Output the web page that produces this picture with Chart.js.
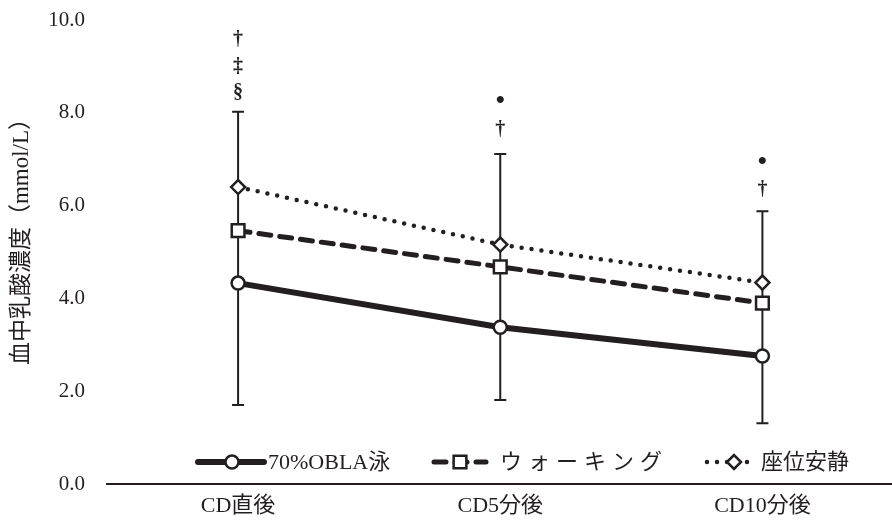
<!DOCTYPE html>
<html>
<head>
<meta charset="utf-8">
<script src="https://cdn.jsdelivr.net/npm/chart.js@4/dist/chart.umd.min.js"></script>
<style>
  html, body { margin: 0; padding: 0; background: #fff; overflow: hidden; }
  #wrap { width: 905px; height: 524px; }
</style>
</head>
<body>
<div id="wrap"><canvas id="lactateChart"></canvas></div>
<script>
const categories = ['CD直後', 'CD5分後', 'CD10分後'];
const seriesNames = ['70%OBLA泳', 'ウォーキング', '座位安静'];
const oblaValues = [4.33, 3.38, 2.76];
const walkValues = [5.46, 4.68, 3.90];
const seatValues = [6.40, 5.16, 4.34];
// error bars: upper SD of 座位安静, lower SD of 70%OBLA泳
const seatUpperSD = [1.62, 1.95, 1.54];
const oblaLowerSD = [2.63, 1.57, 1.45];
const yTickValues = [0, 2, 4, 6, 8, 10];
const yTitle = '血中乳酸濃度（mmol/L）';
// significance marks above each time point
const markLabels = [['†', '‡', '§'], ['•', '†'], ['•', '†']];
const markValues = [[9.57, 9.0, 8.43], [8.25, 7.63], [6.94, 6.34]];

const ink = '#231f20';
const serif = "'Liberation Serif', 'Noto Sans CJK JP', serif";
const jpFont = "'Liberation Serif', 'Noto Sans CJK JP', serif";

// vertical error bars, drawn under the lines
const errorBars = {
    id: 'errorBars',
    beforeDatasetsDraw(chart) {
        const { ctx, scales: { x, y } } = chart;
        ctx.save();
        ctx.strokeStyle = ink;
        ctx.lineWidth = 2;
        categories.forEach((c, i) => {
            const px = x.getPixelForValue(i);
            const top = y.getPixelForValue(seatValues[i] + seatUpperSD[i]);
            const bot = y.getPixelForValue(oblaValues[i] - oblaLowerSD[i]);
            ctx.beginPath();
            ctx.moveTo(px, top); ctx.lineTo(px, bot);
            ctx.moveTo(px - 6, top); ctx.lineTo(px + 6, top);
            ctx.moveTo(px - 6, bot); ctx.lineTo(px + 6, bot);
            ctx.stroke();
        });
        ctx.restore();
    }
};

// significance marks, y title and custom legend
const extras = {
    id: 'extras',
    afterDraw(chart) {
        const { ctx, scales: { x, y } } = chart;
        ctx.save();
        ctx.fillStyle = ink;
        ctx.textAlign = 'center';
        ctx.textBaseline = 'middle';
        markLabels.forEach((labels, i) => {
            const px = x.getPixelForValue(i);
            labels.forEach((t, j) => {
                ctx.font = (t === '•' ? 'bold 26px ' : 'bold 20px ') + serif;
                ctx.fillText(t, px, y.getPixelForValue(markValues[i][j]));
            });
        });

        // y axis title
        ctx.save();
        ctx.translate(22, 236);
        ctx.rotate(-Math.PI / 2);
        ctx.font = '23px ' + jpFont;
        ctx.fillText(yTitle, 0, 0);
        ctx.restore();

        // legend
        const ly = 462;
        const items = [
            { x1: 198, x2: 264, mx: 232, tx: 268, sp: 0 },
            { x1: 434, x2: 486, mx: 460, tx: 500, sp: 6 },
            { x1: 707, x2: 752, mx: 734, tx: 761, sp: 0 }
        ];
        chart.data.datasets.forEach((ds, i) => {
            const it = items[i];
            ctx.save();
            ctx.strokeStyle = ink;
            ctx.lineWidth = ds.borderWidth;
            ctx.lineCap = ds.borderCapStyle || 'butt';
            ctx.setLineDash(ds.borderDash || []);
            ctx.beginPath();
            ctx.moveTo(it.x1, ly); ctx.lineTo(it.x2, ly);
            ctx.stroke();
            ctx.setLineDash([]);
            ctx.fillStyle = '#fff';
            ctx.strokeStyle = ink;
            ctx.lineWidth = ds.pointBorderWidth;
            Chart.helpers.drawPoint(ctx, {
                pointStyle: ds.pointStyle, radius: ds.pointRadius,
                borderWidth: ds.pointBorderWidth, rotation: 0
            }, it.mx, ly);
            ctx.restore();
            ctx.save();
            ctx.fillStyle = ink;
            ctx.textAlign = 'left';
            ctx.font = '22px ' + jpFont;
            ctx.letterSpacing = it.sp + 'px';
            ctx.fillText(ds.label, it.tx, ly + 1);
            ctx.restore();
        });
        ctx.restore();
    }
};

new Chart(document.getElementById('lactateChart'), {
    type: 'line',
    data: {
        labels: categories,
        datasets: [
            {
                label: seriesNames[0], data: oblaValues,
                borderColor: ink, borderWidth: 6, borderCapStyle: 'round',
                pointStyle: 'circle', pointRadius: 6.5, pointBorderWidth: 2.5,
                pointBackgroundColor: '#fff', pointBorderColor: ink
            },
            {
                label: seriesNames[1], data: walkValues,
                borderColor: ink, borderWidth: 5, borderCapStyle: 'round', borderDash: [12, 9],
                pointStyle: 'rect', pointRadius: 9, pointBorderWidth: 2.5,
                pointBackgroundColor: '#fff', pointBorderColor: ink
            },
            {
                label: seriesNames[2], data: seatValues,
                borderColor: ink, borderWidth: 4.5, borderCapStyle: 'round', borderDash: [0, 10],
                pointStyle: 'rectRot', pointRadius: 7, pointBorderWidth: 2.5,
                pointBackgroundColor: '#fff', pointBorderColor: ink
            }
        ]
    },
    options: {
        responsive: true,
        maintainAspectRatio: false,
        animation: false,
        layout: { padding: { top: 20, right: 4, left: 0, bottom: 0 } },
        plugins: { legend: { display: false }, tooltip: { enabled: false } },
        scales: {
            x: {
                offset: true,
                grid: { display: false, drawTicks: false, offset: true },
                border: { display: true, color: ink, width: 2 },
                ticks: { color: ink, font: { family: jpFont, size: 22 }, padding: 9 },
                afterFit: s => { s.height = 40; }
            },
            y: {
                min: 0, max: 10,
                afterBuildTicks: s => { s.ticks = yTickValues.map(v => ({ value: v })); },
                grid: { display: false, drawTicks: false },
                border: { display: false },
                ticks: {
                    color: ink, padding: 22,
                    font: { family: serif, size: 21 },
                    callback: v => v.toFixed(1)
                },
                afterFit: s => { s.width = 107; s.paddingTop = 0; s.paddingBottom = 0; }
            }
        }
    },
    plugins: [errorBars, extras]
});
</script>
</body>
</html>
